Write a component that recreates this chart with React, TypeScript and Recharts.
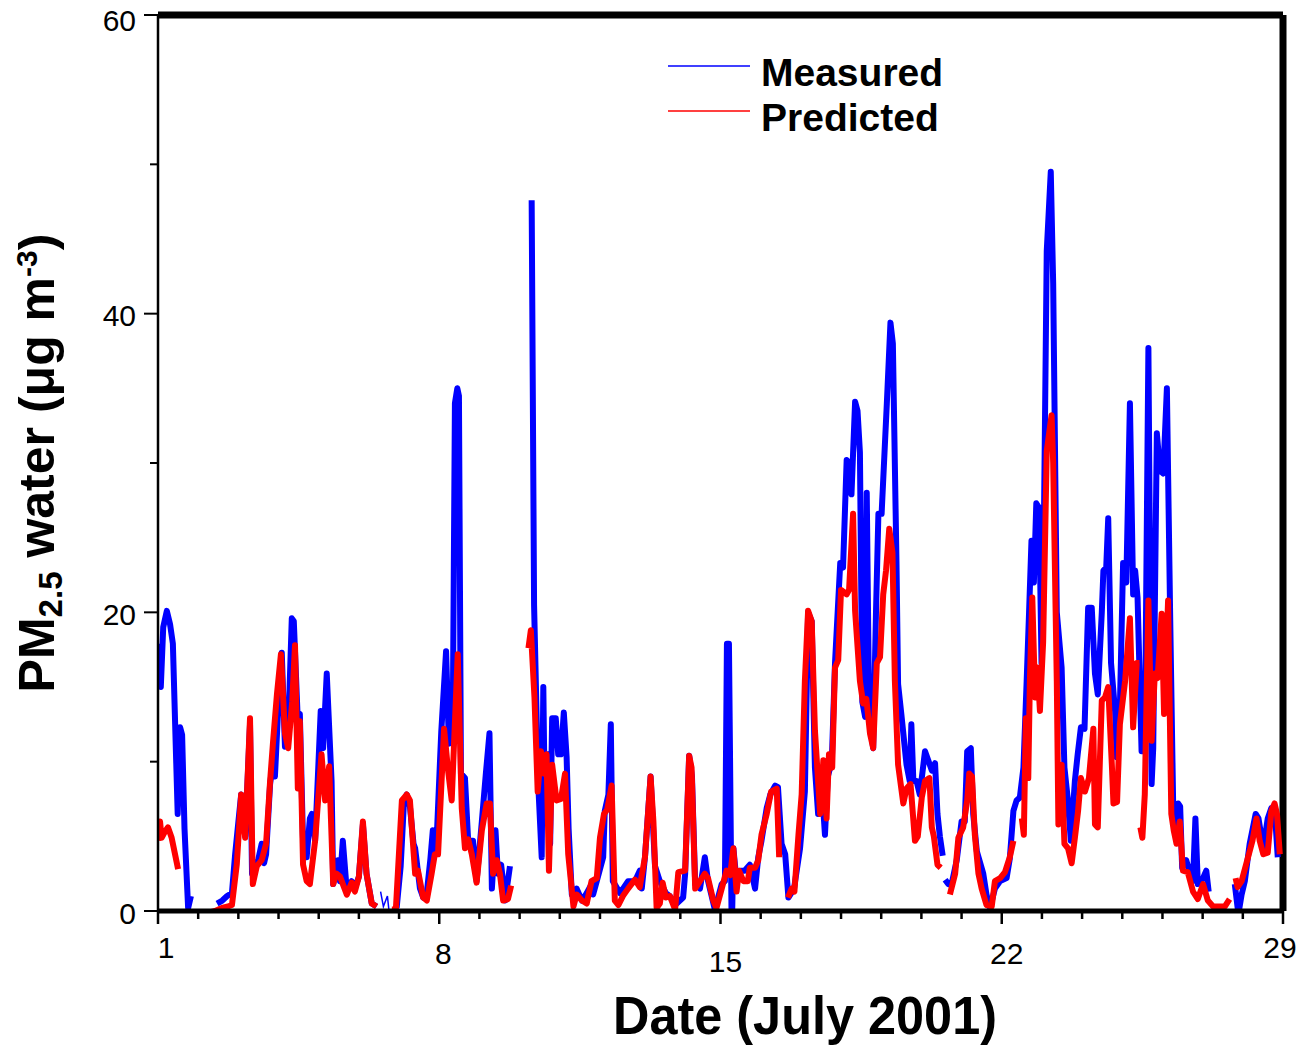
import React from 'react';
import { LineChart, Line, XAxis, YAxis, ReferenceLine, Legend } from 'recharts';

type Pt = [number, number];

const FONT = '"Liberation Sans", Arial, Helvetica, sans-serif';

// measured PM2.5 water, runs separated by gaps in the record
const measuredRuns: Pt[][] = [
  [[1.00, 17.9], [1.07, 15.0], [1.13, 19.0], [1.22, 20.1], [1.30, 19.2], [1.37, 17.9], [1.49, 6.5], [1.55, 12.3], [1.60, 11.8], [1.66, 5.5], [1.75, 0.2], [1.82, 1.0]],
  [[2.47, 0.5], [2.60, 0.7], [2.72, 1.0], [2.84, 1.2], [2.92, 3.8], [3.02, 6.5], [3.07, 7.8], [3.17, 5.0], [3.29, 12.5], [3.34, 2.5], [3.41, 2.8], [3.50, 3.5], [3.58, 4.5], [3.64, 3.2], [3.69, 3.8], [3.79, 8.5], [3.86, 10.0], [3.91, 9.0], [4.00, 14.0], [4.08, 17.3], [4.16, 11.0], [4.24, 12.0], [4.33, 19.6], [4.38, 19.4], [4.48, 12.7], [4.53, 13.2], [4.62, 3.6], [4.70, 3.6], [4.78, 6.2], [4.83, 6.5], [4.91, 4.7], [5.05, 13.4], [5.11, 10.9], [5.20, 15.9], [5.32, 8.7], [5.36, 1.8], [5.44, 3.0], [5.48, 3.4], [5.53, 2.0], [5.60, 4.7], [5.70, 1.3], [5.82, 2.0], [5.90, 1.5], [6.00, 2.3], [6.10, 5.8], [6.19, 2.5], [6.32, 0.5], [6.44, 0.3]],
  [[6.94, 0.2], [7.04, 3.0], [7.12, 7.2], [7.19, 7.8], [7.27, 7.0], [7.36, 4.5], [7.40, 4.2], [7.52, 1.5], [7.60, 0.9], [7.69, 1.2], [7.78, 3.5], [7.84, 5.4], [7.92, 3.8], [8.05, 12.0], [8.17, 17.4], [8.24, 11.2], [8.34, 14.0], [8.39, 34.0], [8.45, 35.0], [8.49, 34.5], [8.54, 9.2], [8.64, 8.9], [8.72, 4.7], [8.84, 4.7], [8.93, 2.0], [9.06, 6.0], [9.16, 9.2], [9.25, 11.9], [9.31, 1.5], [9.40, 5.4], [9.46, 2.5], [9.54, 3.1], [9.64, 0.7], [9.76, 3.0]],
  [[10.30, 47.6], [10.36, 20.5], [10.46, 8.7], [10.55, 3.6], [10.59, 15.0], [10.63, 6.5], [10.71, 10.5], [10.76, 4.5], [10.81, 12.9], [10.90, 12.9], [10.96, 10.5], [11.03, 10.5], [11.10, 13.3], [11.17, 10.3], [11.22, 5.5], [11.30, 1.1], [11.42, 1.5], [11.55, 0.7], [11.67, 1.2], [11.79, 1.8], [11.83, 1.1], [11.92, 2.0], [12.08, 3.6], [12.12, 6.7], [12.21, 7.8], [12.27, 12.5], [12.32, 2.0], [12.50, 1.2], [12.70, 2.0], [12.87, 2.0], [12.99, 2.7], [13.04, 1.5], [13.12, 3.6], [13.26, 9.0], [13.37, 3.0], [13.49, 2.0], [13.64, 1.2], [13.74, 1.0], [13.87, 0.4], [14.07, 0.9], [14.12, 2.5], [14.22, 10.4], [14.29, 9.0], [14.37, 1.8], [14.49, 1.5], [14.61, 3.6], [14.69, 2.0], [14.86, 0.1], [15.03, 1.8], [15.11, 2.0], [15.16, 17.9], [15.21, 17.9], [15.28, -1.7], [15.32, 4.2], [15.40, 2.0], [15.48, 2.7], [15.60, 2.7], [15.73, 3.1], [15.86, 1.5], [15.94, 3.6], [16.02, 4.7], [16.15, 6.9], [16.24, 7.8], [16.36, 8.4], [16.43, 8.3], [16.52, 4.5], [16.61, 3.8], [16.69, 0.9], [16.83, 1.5], [16.98, 4.2], [17.10, 8.0], [17.18, 20.0], [17.27, 19.4], [17.35, 9.6], [17.43, 6.5], [17.50, 9.2], [17.60, 5.1], [17.67, 9.0], [17.77, 10.0], [17.85, 16.6], [17.98, 23.3], [18.05, 23.0], [18.14, 30.2], [18.21, 30.0], [18.26, 27.9], [18.35, 34.1], [18.41, 33.5], [18.47, 30.7], [18.53, 14.0], [18.60, 13.0], [18.64, 28.0], [18.70, 13.0], [18.80, 10.9], [18.87, 20.0], [18.93, 26.6], [19.01, 26.6], [19.14, 34.0], [19.23, 39.4], [19.29, 38.0], [19.38, 23.3], [19.42, 15.2], [19.50, 13.2], [19.63, 9.8], [19.71, 8.7], [19.75, 12.5], [19.80, 8.7], [19.88, 8.7], [19.96, 7.8], [20.09, 10.7], [20.17, 10.1], [20.26, 9.4], [20.34, 9.9], [20.40, 6.5], [20.46, 5.0], [20.53, 3.7]],
  [[20.59, 2.1], [20.67, 1.8], [20.76, 1.9], [20.88, 3.4], [21.00, 6.0], [21.08, 6.0], [21.14, 10.7], [21.23, 10.9], [21.29, 6.5], [21.38, 4.0], [21.54, 2.5], [21.62, 1.1], [21.71, 0.2], [21.83, 1.5], [21.96, 2.0], [22.12, 2.2], [22.20, 3.5], [22.29, 6.7], [22.37, 7.4], [22.45, 7.6], [22.54, 9.6], [22.62, 15.4], [22.68, 20.0], [22.74, 24.8], [22.80, 22.0], [22.86, 27.3], [22.93, 27.0], [22.99, 16.6], [23.03, 20.8], [23.12, 44.2], [23.22, 49.5], [23.28, 42.0], [23.37, 20.0], [23.49, 16.3], [23.56, 9.6], [23.64, 7.6], [23.72, 4.7], [23.82, 8.7], [23.89, 10.5], [23.97, 12.3], [24.06, 12.2], [24.15, 20.3], [24.24, 20.3], [24.32, 15.9], [24.39, 14.5], [24.49, 20.0], [24.53, 22.8], [24.60, 23.0], [24.65, 26.3], [24.72, 16.6], [24.82, 13.4], [24.86, 10.3], [24.94, 13.6], [25.02, 23.3], [25.10, 22.0], [25.19, 34.0], [25.27, 21.2], [25.32, 22.8], [25.38, 21.0], [25.48, 10.7], [25.56, 10.7], [25.65, 37.7], [25.73, 8.5], [25.77, 10.9], [25.86, 32.0], [25.94, 29.5], [26.02, 29.3], [26.11, 35.0], [26.19, 20.0], [26.27, 6.5], [26.35, 4.7], [26.39, 7.2], [26.44, 7.0], [26.49, 2.9], [26.59, 3.4], [26.67, 2.7], [26.76, 2.0], [26.82, 6.2], [26.88, 1.8], [27.01, 2.2], [27.09, 2.7], [27.15, 1.3]],
  [[27.80, 1.8], [27.89, -0.2], [27.97, 1.1], [28.05, 2.0], [28.17, 4.5], [28.32, 6.5], [28.39, 6.2], [28.51, 4.2], [28.62, 6.2], [28.71, 6.9], [28.79, 6.9], [28.87, 3.6]],
];

// short stretch of the measured record drawn with a thin pen
const measuredThin: Pt[] = [[6.54, 1.3], [6.61, 0.3], [6.71, 1.0], [6.75, 0.0], [6.84, -0.8], [6.94, 0.2]];

const predictedRuns: Pt[][] = [
  [[1.00, 4.7], [1.05, 6.0], [1.09, 4.9], [1.17, 5.3], [1.25, 5.6], [1.34, 4.9], [1.50, 2.8]],
  [[1.92, -0.2], [2.05, -0.3], [2.17, -0.4], [2.29, -0.1], [2.42, 0.0], [2.59, 0.2], [2.74, 0.3], [2.84, 0.4], [2.96, 3.1], [3.07, 7.8], [3.17, 4.9], [3.29, 12.9], [3.36, 1.8], [3.46, 3.0], [3.58, 3.4], [3.69, 4.5], [3.79, 8.7], [3.86, 11.2], [3.96, 14.5], [4.06, 17.2], [4.16, 11.9], [4.24, 10.9], [4.34, 14.0], [4.41, 17.8], [4.48, 8.2], [4.53, 12.7], [4.61, 3.1], [4.70, 2.0], [4.78, 1.8], [4.91, 4.7], [5.07, 10.5], [5.16, 7.4], [5.26, 9.7], [5.36, 1.8], [5.44, 2.5], [5.53, 2.3], [5.70, 1.1], [5.82, 1.9], [5.90, 1.3], [6.00, 2.3], [6.10, 6.0], [6.19, 2.5], [6.32, 0.5], [6.44, 0.3]],
  [[6.82, 0.1], [6.92, 0.1], [7.07, 7.4], [7.19, 7.8], [7.27, 7.4], [7.40, 2.5], [7.47, 2.7], [7.60, 0.9], [7.69, 0.7], [7.81, 2.5], [7.89, 3.8], [7.97, 3.8], [8.12, 12.2], [8.22, 9.4], [8.31, 7.4], [8.46, 17.2], [8.56, 6.9], [8.64, 4.2], [8.72, 4.8], [8.81, 3.8], [8.93, 1.9], [9.06, 5.4], [9.18, 7.2], [9.26, 7.2], [9.34, 2.5], [9.43, 3.4], [9.51, 2.5], [9.59, 0.7], [9.71, 0.8], [9.79, 1.7]],
  [[10.22, 17.6], [10.28, 18.8], [10.37, 14.3], [10.45, 8.0], [10.53, 10.7], [10.61, 9.2], [10.67, 10.5], [10.73, 2.7], [10.81, 9.8], [10.92, 7.4], [11.03, 7.5], [11.13, 9.2], [11.21, 3.8], [11.34, 0.3], [11.42, 1.1], [11.55, 0.7], [11.67, 0.5], [11.79, 2.0], [11.92, 2.2], [12.00, 4.9], [12.10, 6.5], [12.18, 6.8], [12.29, 8.4], [12.37, 0.7], [12.46, 0.4], [12.57, 1.0], [12.70, 1.5], [12.87, 2.1], [12.99, 1.6], [13.12, 3.6], [13.26, 9.0], [13.33, 6.0], [13.41, 0.2], [13.49, 0.5], [13.56, 1.9], [13.64, 0.9], [13.74, 1.0], [13.87, 0.1], [13.95, 2.6], [14.12, 2.7], [14.22, 10.4], [14.28, 9.6], [14.37, 1.5], [14.49, 2.0], [14.61, 2.5], [14.69, 2.2], [14.82, 0.7], [14.90, 0.2], [15.03, 1.5], [15.15, 2.7], [15.24, 2.4], [15.32, 4.2], [15.40, 1.3], [15.46, 2.7], [15.57, 2.0], [15.68, 2.0], [15.73, 2.9], [15.86, 2.9], [15.94, 3.4], [16.02, 5.1], [16.15, 6.5], [16.26, 8.0], [16.40, 8.2], [16.46, 3.6]],
  [[16.68, 0.9], [16.77, 1.5], [16.84, 1.3], [16.94, 5.1], [17.02, 7.8], [17.10, 15.4], [17.18, 20.1], [17.27, 19.4], [17.35, 12.1], [17.48, 6.5], [17.56, 10.1], [17.64, 6.2], [17.70, 10.5], [17.78, 9.6], [17.85, 16.3], [17.93, 16.8], [18.00, 21.5], [18.14, 21.2], [18.20, 21.5], [18.30, 26.6], [18.35, 20.1], [18.47, 15.4], [18.55, 13.9], [18.63, 14.2], [18.72, 11.9], [18.80, 10.9], [18.89, 16.6], [18.97, 17.0], [19.05, 21.2], [19.12, 22.8], [19.20, 25.6], [19.28, 24.0], [19.34, 15.4], [19.42, 9.8], [19.55, 7.2], [19.63, 8.2], [19.73, 8.5], [19.84, 4.7], [19.91, 5.0], [20.01, 7.6], [20.09, 8.7], [20.20, 8.9], [20.26, 5.6], [20.31, 5.0], [20.40, 3.1], [20.48, 2.9]],
  [[20.71, 1.1], [20.84, 2.5], [20.92, 4.9], [21.04, 5.6], [21.14, 7.4], [21.19, 9.2], [21.26, 9.0], [21.33, 5.1], [21.42, 2.5], [21.50, 1.5], [21.62, 0.4], [21.75, 0.3], [21.83, 2.0], [21.96, 2.2], [22.08, 2.6], [22.20, 3.6], [22.29, 4.7]],
  [[22.50, 6.2], [22.55, 5.1], [22.60, 12.9], [22.66, 8.9], [22.70, 15.4], [22.76, 21.0], [22.83, 14.3], [22.89, 16.3], [22.95, 13.4], [23.03, 18.0], [23.12, 30.8], [23.24, 33.2], [23.28, 30.0], [23.37, 15.4], [23.41, 5.8], [23.49, 9.8], [23.56, 4.5], [23.65, 4.2], [23.74, 3.2], [23.82, 4.9], [23.90, 6.7], [23.97, 8.9], [24.07, 8.0], [24.17, 8.9], [24.28, 12.2], [24.32, 5.8], [24.39, 5.6], [24.49, 14.1], [24.57, 14.3], [24.65, 15.0], [24.74, 9.8], [24.78, 7.2], [24.87, 7.3], [24.94, 12.5], [25.07, 15.4], [25.19, 19.6], [25.27, 12.3], [25.36, 16.6], [25.43, 16.6]],
  [[25.45, 5.6], [25.50, 4.9], [25.56, 7.8], [25.65, 20.8], [25.73, 11.4], [25.81, 15.9], [25.88, 15.6], [25.98, 19.9], [26.04, 13.2], [26.14, 20.8], [26.22, 6.5], [26.28, 5.4], [26.35, 4.5], [26.43, 6.0], [26.51, 2.7], [26.63, 2.6], [26.76, 1.3], [26.88, 0.8], [27.01, 1.8], [27.13, 0.7], [27.26, 0.3], [27.42, 0.3], [27.55, 0.3], [27.67, 0.8]],
  [[27.82, 2.2], [27.87, 1.6], [27.97, 2.0], [28.13, 3.6], [28.24, 4.7], [28.34, 6.2], [28.42, 4.7], [28.51, 3.8], [28.62, 3.9], [28.71, 6.7], [28.79, 7.2], [28.85, 6.5], [28.92, 3.8]],
];

const dayTicks = Array.from({ length: 29 }, (_, i) => i + 1);
const dayLabels = [1, 8, 15, 22, 29];
const valueTicks = [0, 10, 20, 30, 40, 50, 60];
const valueLabels = [0, 20, 40, 60];

// little offsets of the date labels as printed in the original
const X_NUDGE: Record<number, [number, number]> = {
  1: [8, 36],
  8: [4, 42],
  15: [5, 50],
  22: [5, 42],
  29: [-3, 36],
};

type Row = { day: number; v: number | null };

function toRows(runs: Pt[][]): Row[] {
  const rows: Row[] = [];
  runs.forEach((run, i) => {
    if (i > 0) {
      const prev = runs[i - 1];
      rows.push({ day: (prev[prev.length - 1][0] + run[0][0]) / 2, v: null });
    }
    run.forEach(([day, v]) => rows.push({ day, v }));
  });
  return rows;
}

const measuredRows = toRows(measuredRuns);
const measuredThinRows = toRows([measuredThin]);
const predictedRows = toRows(predictedRuns);

const XTick = (props: any) => {
  const { x, y, payload } = props;
  const v = payload.value as number;
  const major = dayLabels.includes(v);
  const n = X_NUDGE[v];
  return (
    <g>
      <line x1={x} x2={x} y1={y} y2={y + (major ? 13 : 8)} stroke="#000" strokeWidth={2.5} />
      {major && (
        <text x={x + n[0]} y={y + n[1]} textAnchor="middle" dominantBaseline="central"
          fontFamily={FONT} fontSize={30} fill="#000">{v}</text>
      )}
    </g>
  );
};

const YTick = (props: any) => {
  const { x, y, payload } = props;
  const v = payload.value as number;
  const major = valueLabels.includes(v);
  return (
    <g>
      <line x1={x} x2={x - (major ? 14 : 8)} y1={y} y2={y} stroke="#000" strokeWidth={2} />
      {major && (
        <text x={x - 22} y={y + (v === 60 ? 5 : 2)} textAnchor="end" dominantBaseline="central"
          fontFamily={FONT} fontSize={30} fill="#000">{v}</text>
      )}
    </g>
  );
};

const XTitle = (props: any) => {
  const vb = props.viewBox || { x: 158, y: 911, width: 1125, height: 136 };
  return (
    <text x={vb.x + 647} y={vb.y + 123} textAnchor="middle" fontFamily={FONT} fontWeight="bold"
      fontSize={54} textLength={384} lengthAdjust="spacingAndGlyphs" fill="#000">
      Date (July 2001)
    </text>
  );
};

const YTitle = (props: any) => {
  const vb = props.viewBox || { x: 0, y: 15, width: 158, height: 896 };
  const bx = vb.x + 54;
  const cy = vb.y + vb.height / 2;
  return (
    <text x={bx} y={cy} transform={`rotate(-90, ${bx}, ${cy})`} textAnchor="middle"
      fontFamily={FONT} fontWeight="bold" fontSize={50} fill="#000">
      PM<tspan fontSize={33} dy={8}>2.5</tspan>
      <tspan dy={-8}>{' water (μg m'}</tspan>
      <tspan fontSize={30} dy={-17}>-3</tspan>
      <tspan dy={17}>)</tspan>
    </text>
  );
};

const LegendBox = (props: any) => {
  const items = (props.payload || []).filter((p: any) => p.type !== 'none');
  return (
    <div>
      {items.map((p: any) => (
        <div key={p.value} style={{ display: 'flex', alignItems: 'flex-start', height: 45 }}>
          <svg width={82} height={45} style={{ display: 'block' }}>
            <line x1={0} x2={82} y1={16} y2={16} stroke={p.color} strokeWidth={1.5} />
          </svg>
          <span style={{ marginLeft: 11, fontFamily: FONT, fontWeight: 'bold', fontSize: 39, lineHeight: '45px', color: '#000' }}>
            {p.value}
          </span>
        </div>
      ))}
    </div>
  );
};

export default function App() {
  return (
    <div style={{ position: 'absolute', left: 0, top: 0, width: 1303, height: 1047, background: '#fff' }}>
      <LineChart width={1303} height={1047} margin={{ top: 15, right: 20, bottom: 0, left: 0 }}>
        <XAxis
          type="number"
          dataKey="day"
          domain={[1, 29]}
          ticks={dayTicks}
          interval={0}
          height={136}
          tickSize={0}
          tickMargin={0}
          tickLine={false}
          tick={<XTick />}
          axisLine={{ stroke: '#000', strokeWidth: 5 }}
          allowDataOverflow
          label={{ content: XTitle }}
        />
        <YAxis
          type="number"
          domain={[0, 60]}
          ticks={valueTicks}
          interval={0}
          width={158}
          tickSize={0}
          tickMargin={0}
          tickLine={false}
          tick={<YTick />}
          axisLine={{ stroke: '#000', strokeWidth: 2.5 }}
          allowDataOverflow
          label={{ content: YTitle }}
        />
        <ReferenceLine y={60} stroke="#000" strokeWidth={7} />
        <ReferenceLine x={29} stroke="#000" strokeWidth={7} />
        <Legend
          layout="vertical"
          align="center"
          verticalAlign="middle"
          wrapperStyle={{ left: 668, top: 50, width: 320 }}
          content={<LegendBox />}
        />
        <Line data={measuredRows} dataKey="v" name="Measured" stroke="#0000ff" strokeWidth={6}
          strokeLinejoin="round" dot={false} activeDot={false} isAnimationActive={false} />
        <Line data={measuredThinRows} dataKey="v" name="measured-thin" legendType="none" stroke="#0000ff"
          strokeWidth={1.5} dot={false} activeDot={false} isAnimationActive={false} />
        <Line data={predictedRows} dataKey="v" name="Predicted" stroke="#ff0000" strokeWidth={6}
          strokeLinejoin="round" dot={false} activeDot={false} isAnimationActive={false} />
      </LineChart>
    </div>
  );
}
